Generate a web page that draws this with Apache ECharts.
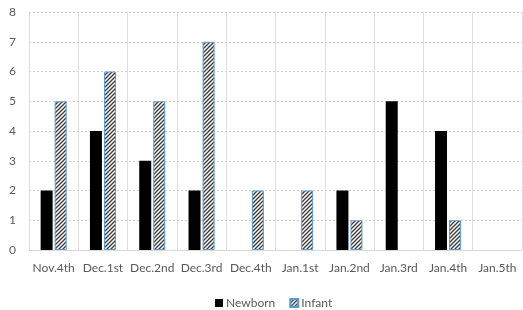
<!DOCTYPE html>
<html><head><meta charset="utf-8">
<script src="https://cdn.jsdelivr.net/npm/echarts@6/dist/echarts.min.js"></script>
<style>html,body{margin:0;padding:0;background:#fff}#c{width:523px;height:310px}</style>
</head><body><div id="c"></div>
<script>
const categories = ['Nov.4th','Dec.1st','Dec.2nd','Dec.3rd','Dec.4th','Jan.1st','Jan.2nd','Jan.3rd','Jan.4th','Jan.5th'];
const newborn = [2,4,3,2,0,0,2,5,4,0];
const infant = [5,6,5,7,2,2,1,0,1,0];
const seriesNames = ['Newborn','Infant'];

function hatch(){
  const c = document.createElement('canvas');
  c.width = 4; c.height = 4;
  const g = c.getContext('2d');
  g.fillStyle = '#ffffff'; g.fillRect(0,0,4,4);
  g.strokeStyle = '#3a3a3a'; g.lineWidth = 1.3;
  for (let k=-2;k<=2;k++){
    g.beginPath(); g.moveTo(k*4-1, 5); g.lineTo(k*4+5, -1); g.stroke();
  }
  return {image: c, repeat: 'repeat'};
}
const pat = hatch();
const nz = a => a.map(v => v === 0 ? '-' : v);
const txt = '#595959';
const ff = 'Lato';
const chart = echarts.init(document.getElementById('c'), null, {renderer:'canvas'});
chart.setOption({
  animation:false,
  grid:{left:29,right:1,top:12,bottom:60},
  legend:{top:292,left:210,itemWidth:8,itemHeight:8,itemGap:14,
    textStyle:{color:txt,fontSize:12,fontFamily:ff,padding:[0,0,0,-2]},
    data:[{name:seriesNames[0],icon:'rect'},{name:seriesNames[1],icon:'rect'}]},
  xAxis:{type:'category',data:categories,
    axisLine:{lineStyle:{color:'#d9d9d9'}},axisTick:{show:false},
    axisLabel:{color:txt,fontSize:12,fontFamily:ff,margin:12,interval:0},
    splitLine:{show:true,lineStyle:{color:'#dedede',width:1}}},
  yAxis:{type:'value',min:0,max:8,interval:1,
    axisLine:{show:false},axisTick:{show:false},
    axisLabel:{color:txt,fontSize:12,fontFamily:ff,margin:13},
    splitLine:{lineStyle:{color:'#d0d0d0',type:[2,2]}}},
  series:[
    {name:seriesNames[0],type:'bar',data:nz(newborn),barWidth:12,barGap:'17%',
     itemStyle:{color:'#000000'}},
    {name:seriesNames[1],type:'bar',data:nz(infant),barWidth:12,
     itemStyle:{color:pat,borderColor:'#5b9bd5',borderWidth:1}}
  ]
});
</script></body></html>
